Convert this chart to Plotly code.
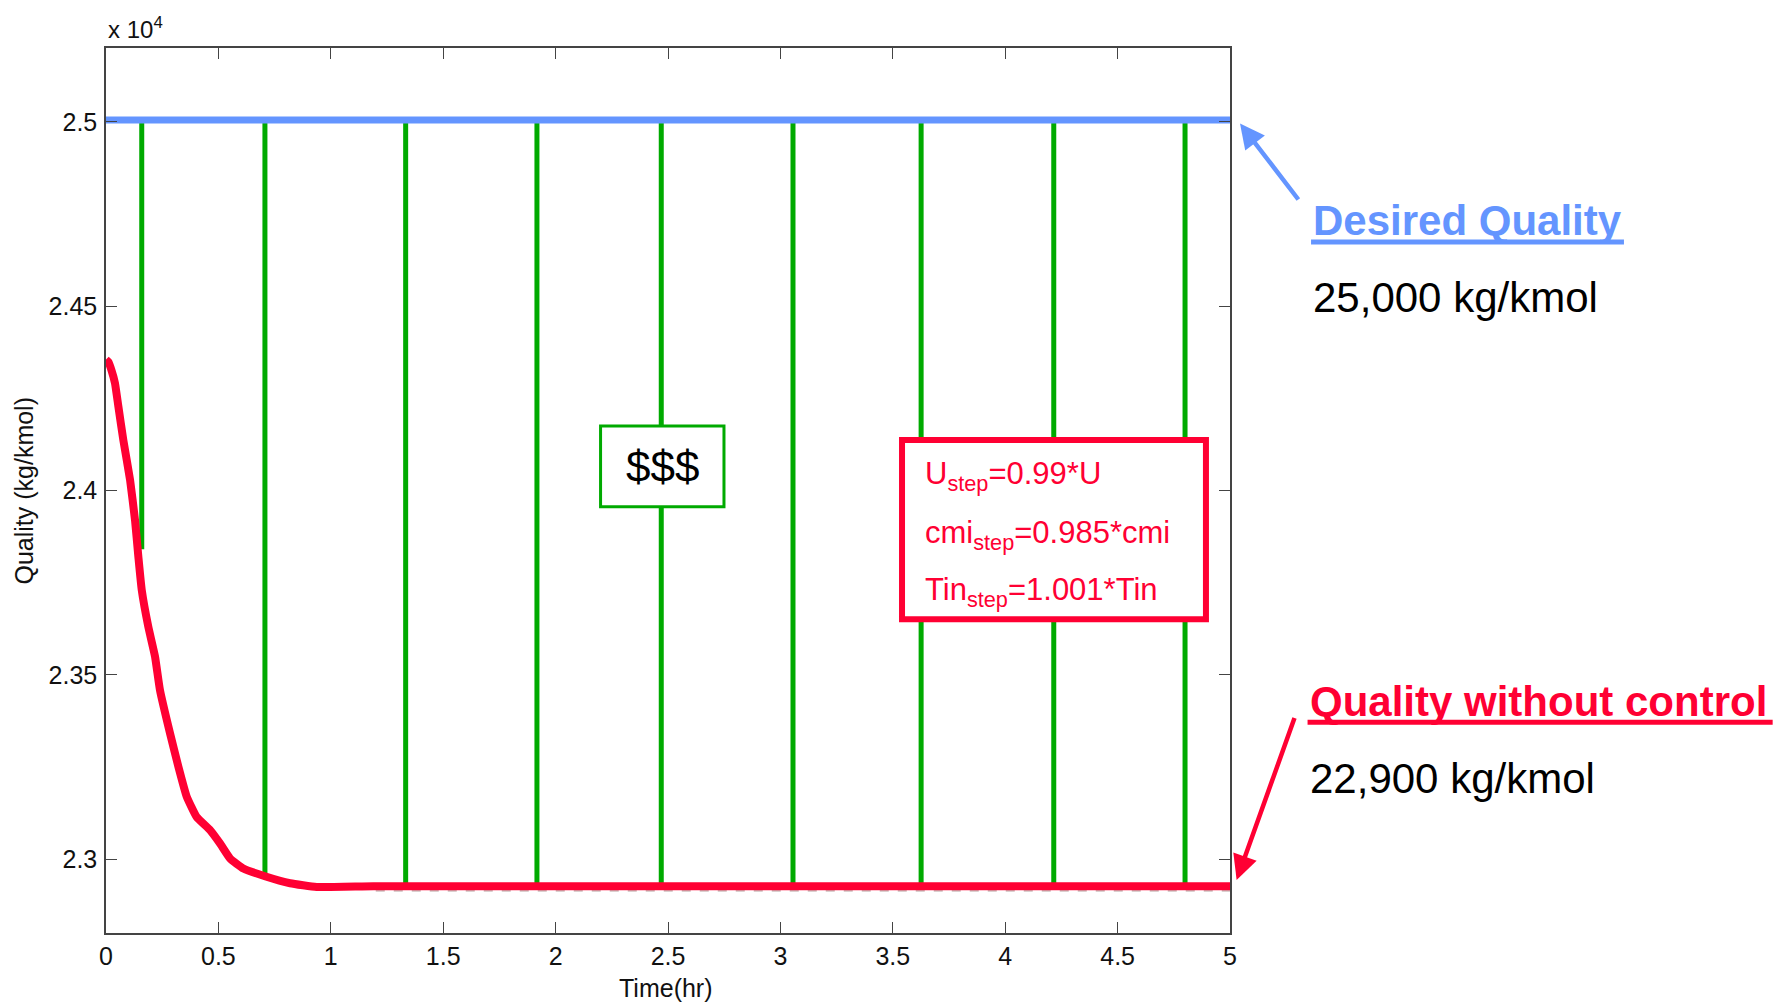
import plotly.graph_objects as go

# ---------------- data ----------------
# time (hr) and quality without control (kg/kmol)
red_t = [0.0, 0.010, 0.025, 0.040, 0.055, 0.077, 0.107, 0.129, 0.144, 0.159, 0.188,
         0.218, 0.240, 0.285, 0.322, 0.359, 0.403, 0.463, 0.507, 0.552, 0.611, 0.707,
         0.819, 0.937, 1.189, 2.0, 3.0, 4.0, 5.0]
red_q = [24355, 24349, 24325, 24291, 24228, 24137, 24029, 23920, 23820, 23730, 23631,
         23550, 23459, 23341, 23251, 23170, 23115, 23079, 23043, 23002, 22975, 22954,
         22935, 22925, 22927, 22927, 22927, 22927, 22927]

# desired quality (set point)
desired_t = [0.0, 5.0]
desired_q = [25005, 25005]

# faint dashed reference under the uncontrolled response
dash_t = [1.2, 5.0]
dash_q = [22914, 22914]

# control action (green pulses)
green_t = [0.159, 0.707, 1.333, 1.917, 2.47, 3.056, 3.626, 4.216, 4.80]
green_top = [25000] * 9
green_bottom = [23841, 22958, 22927, 22927, 22927, 22927, 22927, 22927, 22927]

x_ticks = [0, 0.5, 1, 1.5, 2, 2.5, 3, 3.5, 4, 4.5, 5]
x_ticktext = ["0", "0.5", "1", "1.5", "2", "2.5", "3", "3.5", "4", "4.5", "5"]
y_ticks = [23000, 23500, 24000, 24500, 25000]
y_ticktext = ["2.3", "2.35", "2.4", "2.45", "2.5"]

# ---------------- styles ----------------
RED = "#FF0033"
GREEN = "#00AA00"
BLUE = "#6495FF"
FONT = "Liberation Sans"

gx, gy = [], []
for t, top, bot in zip(green_t, green_top, green_bottom):
    gx += [t, t, None]
    gy += [top, bot, None]

fig = go.Figure()
fig.add_trace(go.Scatter(x=gx, y=gy, mode="lines",
                         line=dict(color=GREEN, width=5), hoverinfo="skip"))
fig.add_trace(go.Scatter(x=desired_t, y=desired_q, mode="lines",
                         line=dict(color=BLUE, width=7)))
fig.add_trace(go.Scatter(x=dash_t, y=dash_q, mode="lines",
                         line=dict(color="#b8a0a0", width=1.2, dash="dash")))
fig.add_trace(go.Scatter(x=red_t, y=red_q, mode="lines",
                         line=dict(color=RED, width=8, shape="spline", smoothing=0.4)))

# boxes (drawn above traces, white filled)
fig.add_shape(type="rect", xref="x", yref="y", x0=2.20, x1=2.749, y0=23956, y1=24175,
              line=dict(color=GREEN, width=3), fillcolor="white", layer="above")
fig.add_shape(type="rect", xref="x", yref="y", x0=3.541, x1=4.893, y0=23651, y1=24137,
              line=dict(color=RED, width=6), fillcolor="white", layer="above")

ann = []
ann.append(dict(x=2.474, y=24066, xref="x", yref="y", text="$$$", showarrow=False,
                font=dict(family=FONT, size=44, color="black")))
for txt, yv in [("U<sub>step</sub>=0.99*U", 24038),
                ("cmi<sub>step</sub>=0.985*cmi", 23878),
                ("Tin<sub>step</sub>=1.001*Tin", 23726)]:
    ann.append(dict(x=3.633, y=yv, xref="x", yref="y", text=txt, showarrow=False,
                    xanchor="left", yanchor="middle",
                    font=dict(family=FONT, size=31, color=RED)))

# right side labels
ann.append(dict(x=1.0721, y=0.805, xref="paper", yref="paper", text="<b>Desired Quality</b>",
                showarrow=False, xanchor="left", yanchor="middle",
                font=dict(family=FONT, size=42, color=BLUE)))
ann.append(dict(x=1.0721, y=0.7186, xref="paper", yref="paper", text="25,000 kg/kmol",
                showarrow=False, xanchor="left", yanchor="middle",
                font=dict(family=FONT, size=42, color="black")))
ann.append(dict(x=1.069, y=0.2614, xref="paper", yref="paper", text="<b>Quality without control</b>",
                showarrow=False, xanchor="left", yanchor="middle",
                font=dict(family=FONT, size=42, color=RED)))
ann.append(dict(x=1.069, y=0.1751, xref="paper", yref="paper", text="22,900 kg/kmol",
                showarrow=False, xanchor="left", yanchor="middle",
                font=dict(family=FONT, size=42, color="black")))
# arrows
ann.append(dict(x=1.0089, y=0.9148, xref="paper", yref="paper", text="", showarrow=True,
                ax=59.5, ay=77.6, axref="pixel", ayref="pixel", arrowhead=2, arrowsize=1.1,
                arrowwidth=4.5, arrowcolor=BLUE))
ann.append(dict(x=1.0059, y=0.0599, xref="paper", yref="paper", text="", showarrow=True,
                ax=58.4, ay=-163.4, axref="pixel", ayref="pixel", arrowhead=2, arrowsize=1.1,
                arrowwidth=4.5, arrowcolor=RED))
# exponent label
ann.append(dict(x=0, y=1, xref="paper", yref="paper", text="x 10<sup>4</sup>", showarrow=False,
                xanchor="left", yanchor="bottom", yshift=3,
                font=dict(family=FONT, size=24, color="#111")))
# axis titles
ann.append(dict(x=0.498, y=-0.0616, xref="paper", yref="paper", text="Time(hr)", showarrow=False,
                xanchor="center", yanchor="middle",
                font=dict(family=FONT, size=25, color="#111")))
ann.append(dict(x=-0.0738, y=0.5, xref="paper", yref="paper", text="Quality (kg/kmol)",
                showarrow=False, textangle=-90, xanchor="center", yanchor="middle",
                font=dict(family=FONT, size=25, color="#111")))

# underlines
fig.add_shape(type="line", xref="paper", yref="paper", x0=1.0721, x1=1.3505, y0=0.7808, y1=0.7808,
              line=dict(color=BLUE, width=5))
fig.add_shape(type="line", xref="paper", yref="paper", x0=1.069, x1=1.4828, y0=0.2381, y1=0.2381,
              line=dict(color=RED, width=5))

axis_common = dict(showline=True, linecolor="#444", linewidth=1.5, mirror="ticks",
                   ticks="inside", ticklen=11, tickcolor="#444", tickwidth=1.2,
                   showgrid=False, zeroline=False, automargin=False,
                   tickfont=dict(family=FONT, size=25, color="#111"))

fig.update_layout(
    width=1792, height=1003,
    margin=dict(l=106, r=562, t=48, b=70, autoexpand=False),
    plot_bgcolor="white", paper_bgcolor="white",
    showlegend=False,
    annotations=ann,
    xaxis=dict(range=[0, 5], tickvals=x_ticks, ticktext=x_ticktext, **axis_common),
    yaxis=dict(range=[22800, 25200], tickvals=y_ticks, ticktext=y_ticktext,
               ticklabelstandoff=2, **axis_common),
)

fig.write_html("out.html", config={"displayModeBar": False},
               post_script="document.body.style.margin='0';")
